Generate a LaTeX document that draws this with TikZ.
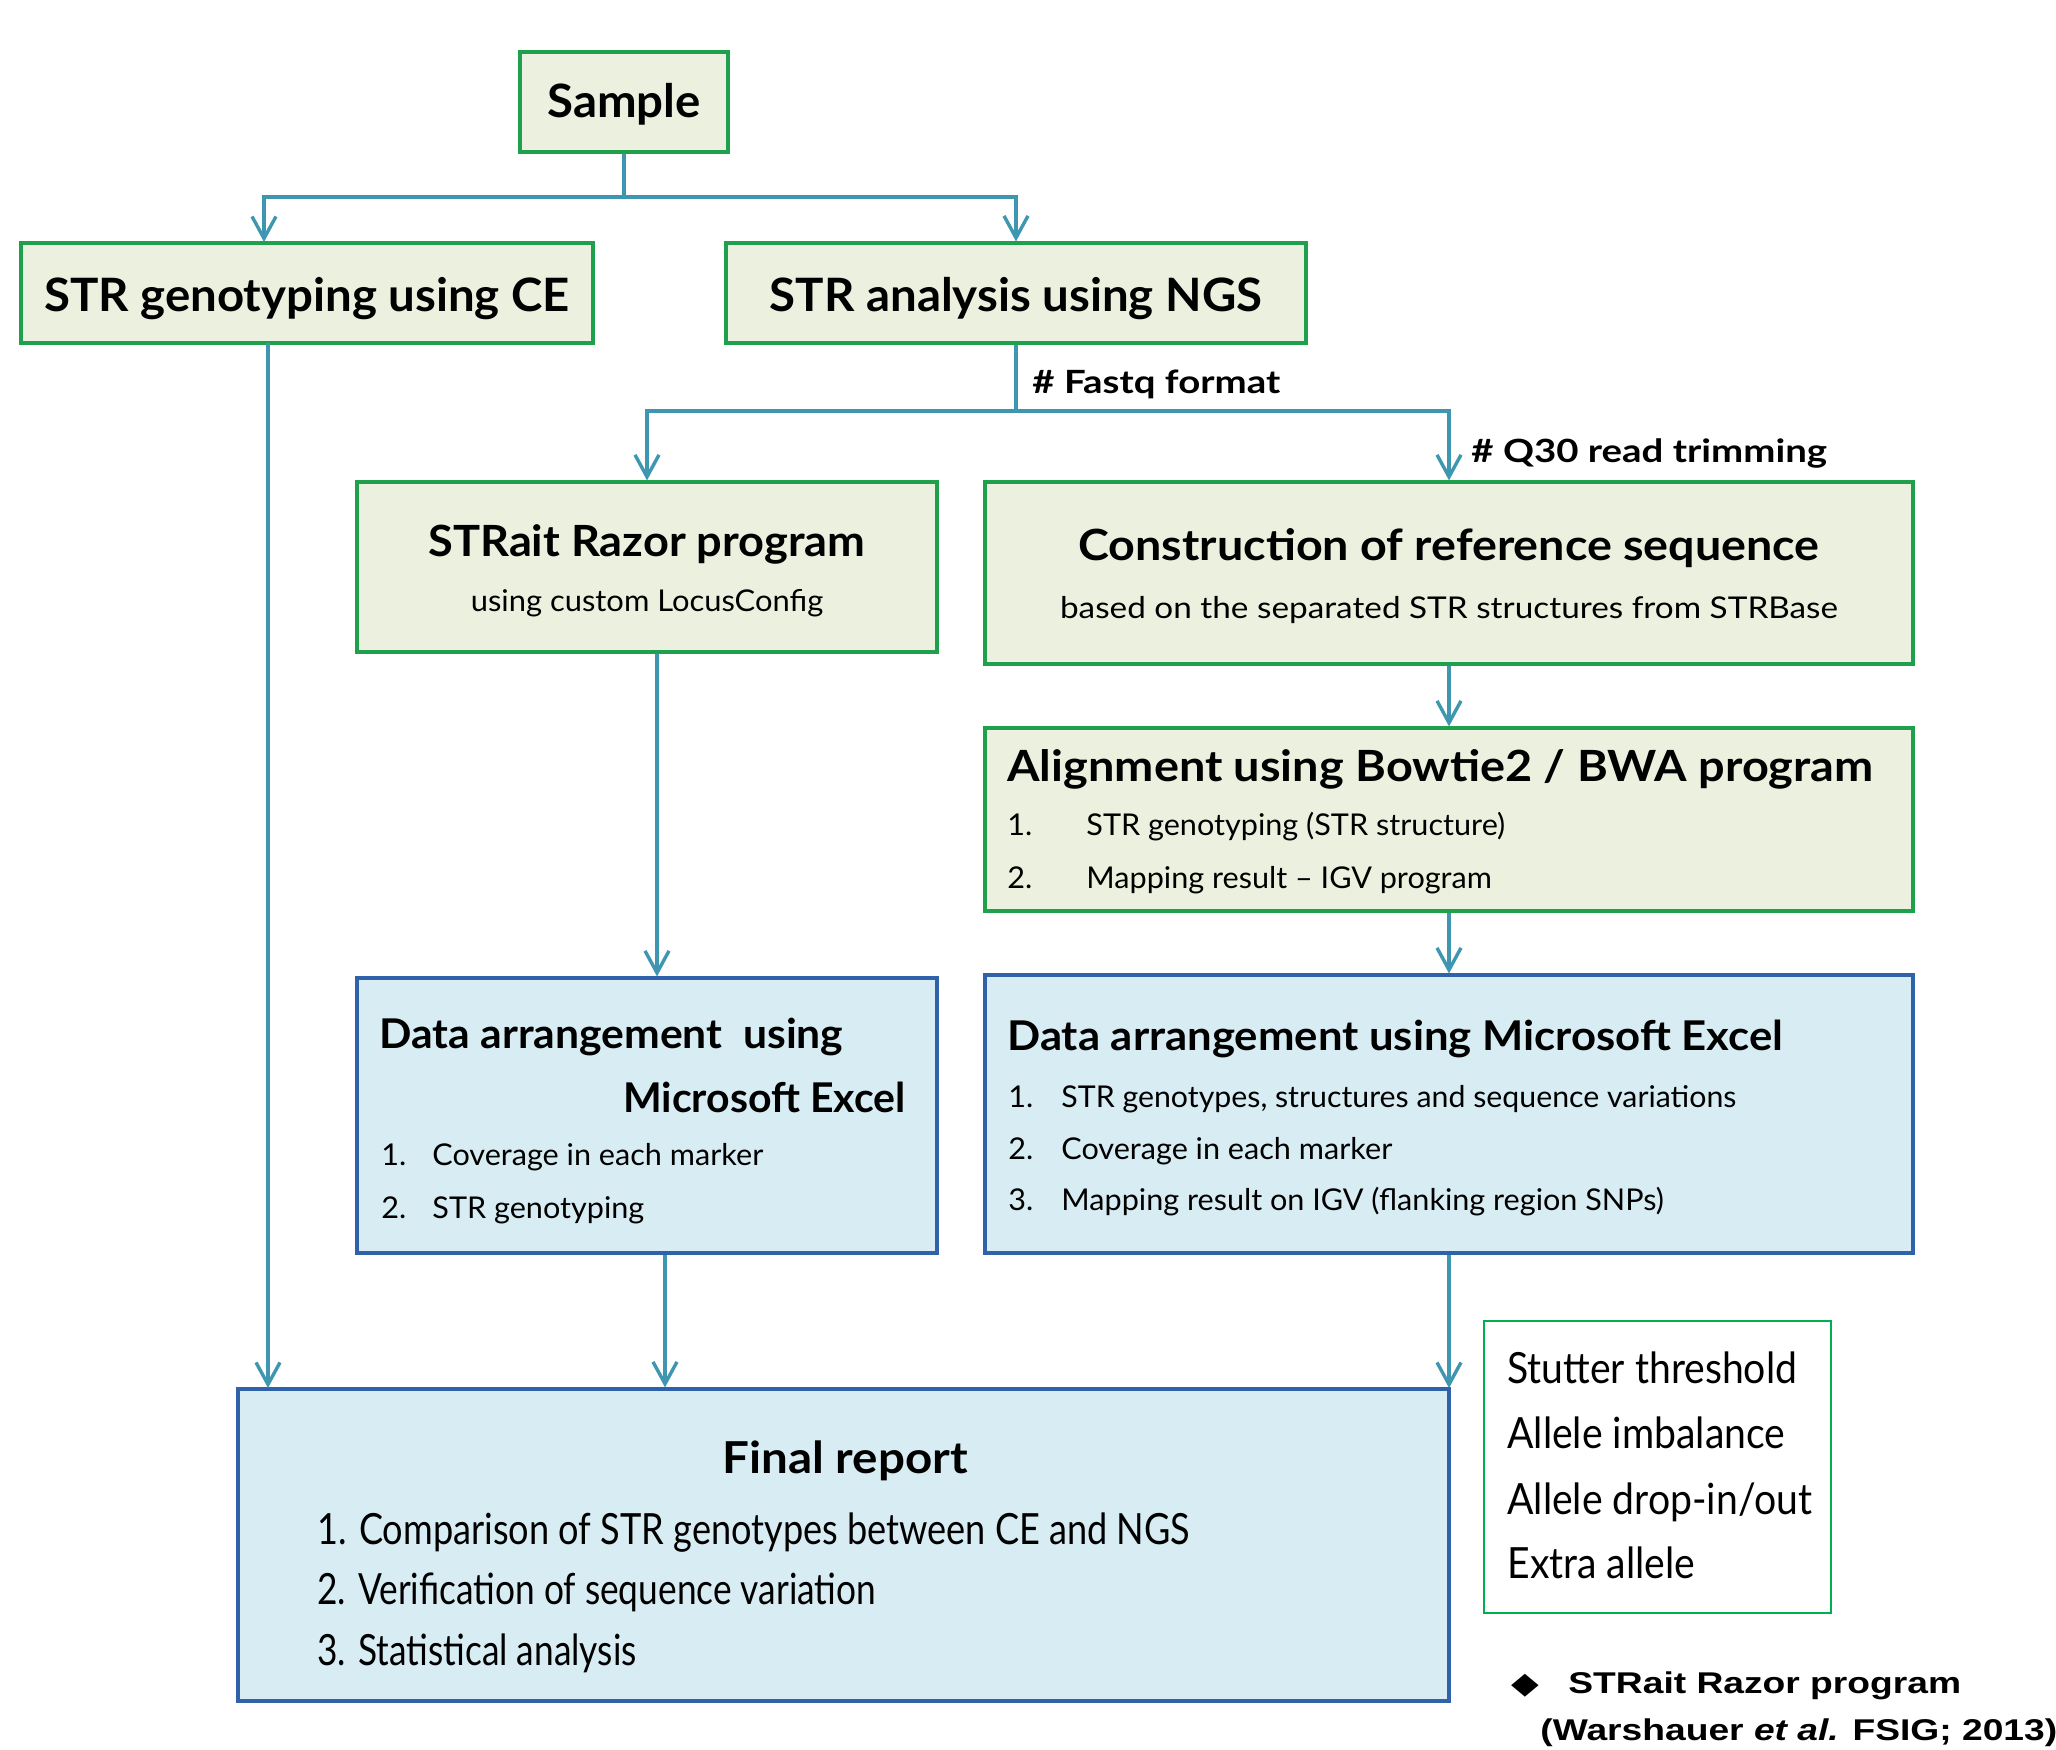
\documentclass[tikz,border=0pt]{standalone}
\usepackage{fontspec}
\setmainfont{Lato}
\newfontfamily\arialf{Liberation Sans}[FakeStretch=1.24]
\newfontfamily\djv{DejaVu Sans}[FakeStretch=1.2]
\usetikzlibrary{arrows.meta,fit,calc}
\definecolor{gfill}{HTML}{EBF1DE}
\definecolor{gdraw}{HTML}{1FA04C}
\definecolor{bfill}{HTML}{D7ECF3}
\definecolor{bdraw}{HTML}{2F62A8}
\definecolor{conn}{RGB}{62,150,176}
\definecolor{sdraw}{HTML}{00B050}
\newcommand{\fsz}[3]{\fontsize{#1}{#2}\selectfont\addfontfeatures{FakeStretch=#3}}
\newcommand{\fszb}[3]{\fontsize{#1}{#2}\selectfont\bfseries\addfontfeatures{FakeStretch=#3}}
\begin{document}
\begin{tikzpicture}[x=0.5pt,y=-0.5pt,
  gbox/.style={draw=gdraw,fill=gfill,line width=1.6pt,inner sep=0pt},
  bbox/.style={draw=bdraw,fill=bfill,line width=1.6pt,inner sep=0pt},
  sbox/.style={draw=sdraw,line width=1.4pt,inner sep=0pt},
  ln/.style={draw=conn,line width=1.7pt},
  arr/.style={ln,-{Straight Barb[length=11pt,width=12pt,line width=1.7pt]}},
  tc/.style={inner sep=0pt,anchor=base},
  tl/.style={inner sep=0pt,anchor=base west},
  tr/.style={inner sep=0pt,anchor=base east},
  big/.style={font=\fszb{23pt}{27pt}{1.03}},
  item/.style={font=\fsz{15pt}{18pt}{1.02}},
  fitem/.style={font=\fsz{21.5pt}{26pt}{0.82}},
  stit/.style={font=\fsz{21.5pt}{26pt}{0.91}},
  hash/.style={font=\fszb{16pt}{19pt}{1.2}},
  note/.style={font=\fontsize{15pt}{18pt}\selectfont\arialf\bfseries},
]
\path[use as bounding box] (0,0) rectangle (2056,1750);

% boxes
\node[gbox,fit={(520,52)(728,152)}] (sample) {};
\node[gbox,fit={(21,243)(593,343)}] (ce) {};
\node[gbox,fit={(726,243)(1306,343)}] (ngs) {};
\node[gbox,fit={(357,482)(937,652)}] (strait) {};
\node[gbox,fit={(985,482)(1913,664)}] (cons) {};
\node[gbox,fit={(985,728)(1913,911)}] (align) {};
\node[bbox,fit={(357,978)(937,1253)}] (dleft) {};
\node[bbox,fit={(985,975)(1913,1253)}] (dright) {};
\node[bbox,fit={(238,1389)(1449,1701)}] (fin) {};
\node[sbox,fit={(1484,1321)(1831,1613)}] (stut) {};

% connector helper coordinates
\coordinate (j1) at (624,197);
\coordinate (ceIn) at (264,242);
\coordinate (ceOut) at (268,343);
\coordinate (finA) at (268,1388);
\coordinate (finC) at (1449,1388);
\coordinate (j2) at (1016,411);
\coordinate (xS) at (657,0);
\coordinate (xD) at (665,0);

% connectors
\draw[ln] (sample.south) -- (j1);
\draw[arr] (j1) -| (ceIn);
\draw[arr] (j1) -| (ngs.north);
\draw[arr] (ceOut) -- (finA);
\draw[ln] (ngs.south) -- (j2);
\draw[arr] (j2) -| (strait.north);
\draw[arr] (j2) -| (cons.north);
\draw[arr] (cons.south) -- (align.north);
\draw[arr] (strait.south -| xS) -- (dleft.north -| xS);
\draw[arr] (align.south) -- (dright.north);
\draw[arr] (dleft.south -| xD) -- (fin.north -| xD);
\draw[arr] (dright.south) -- (finC);

% texts
\node[tc,big] (tsample) at (624,118) {Sample};
\node[tc,big] (tce) at (307,311) {STR genotyping using CE};
\node[tc,big] (tngs) at (1016,311) {STR analysis using NGS};
\node[tl,hash] (tfastq) at (1032,393) {\# Fastq format};
\node[tl,hash] (tq30) at (1471,462) {\# Q30 read trimming};

\node[tc,font=\fszb{21.5pt}{25pt}{1.05}] (tstrait) at (647,556) {STRait Razor program};
\node[tc,font=\fsz{15pt}{18pt}{1.03}] (tstrait2) at (647,611) {using custom LocusConfig};

\node[tc,font=\fszb{21.5pt}{25pt}{1.085}] (tcons) at (1449,560) {Construction of reference sequence};
\node[tc,font=\fsz{15pt}{18pt}{1.11}] (tcons2) at (1449,618) {based on the separated STR structures from STRBase};

\node[tl,font=\fszb{21.5pt}{25pt}{1.09}] (talign) at (1007,781) {Alignment using Bowtie2 / BWA program};
\node[tl,item] (ta1n) at (1007,835) {1.};
\node[tl,item] (ta1) at (1086,835) {STR genotyping (STR structure)};
\node[tl,item] (ta2n) at (1007,888) {2.};
\node[tl,item] (ta2) at (1086,888) {Mapping result -- IGV program};

\node[tl,font=\fszb{20.5pt}{25pt}{1.04}] (tdl) at (379,1048) {Data arrangement\ \ using};
\node[tr,font=\fszb{20.5pt}{25pt}{1.0}] (tdl2) at (906,1112) {Microsoft Excel};
\node[tl,item] (tdl1n) at (381,1165) {1.};
\node[tl,item] (tdl1) at (432,1165) {Coverage in each marker};
\node[tl,item] (tdl2n) at (381,1218) {2.};
\node[tl,item] (tdl2b) at (432,1218) {STR genotyping};

\node[tl,font=\fszb{20.5pt}{25pt}{1.065}] (tdr) at (1007,1050) {Data arrangement using Microsoft Excel};
\node[tl,item] (tdr1n) at (1008,1107) {1.};
\node[tl,item,font=\fsz{15pt}{18pt}{1.01}] (tdr1) at (1061,1107) {STR genotypes, structures and sequence variations};
\node[tl,item] (tdr2n) at (1008,1159) {2.};
\node[tl,item] (tdr2) at (1061,1159) {Coverage in each marker};
\node[tl,item] (tdr3n) at (1008,1210) {3.};
\node[tl,item] (tdr3) at (1061,1210) {Mapping result on IGV (flanking region SNPs)};

\node[tc,font=\fszb{22pt}{26pt}{1.08}] (tfin) at (845,1473) {Final report};
\node[tl,font=\fsz{21.5pt}{26pt}{0.84}] (tf1) at (317,1544) {1. Comparison of STR genotypes between CE and NGS};
\node[tl,fitem] (tf2) at (317,1604) {2. Verification of sequence variation};
\node[tl,fitem] (tf3) at (317,1665) {3. Statistical analysis};

\node[tl,stit] (ts1) at (1507,1383) {Stutter threshold};
\node[tl,stit] (ts2) at (1507,1448) {Allele imbalance};
\node[tl,stit] (ts3) at (1507,1514) {Allele drop-in/out};
\node[tl,stit] (ts4) at (1507,1578) {Extra allele};

\node[tl,font=\fontsize{15pt}{18pt}\selectfont\djv] (tdia) at (1511,1693) {◆};
\node[tl,note] (tn1) at (1568,1693) {STRait Razor program};
\node[tl,note] (tn2) at (1540,1740) {(Warshauer \textit{et al.} FSIG; 2013)};
\end{tikzpicture}
\end{document}
